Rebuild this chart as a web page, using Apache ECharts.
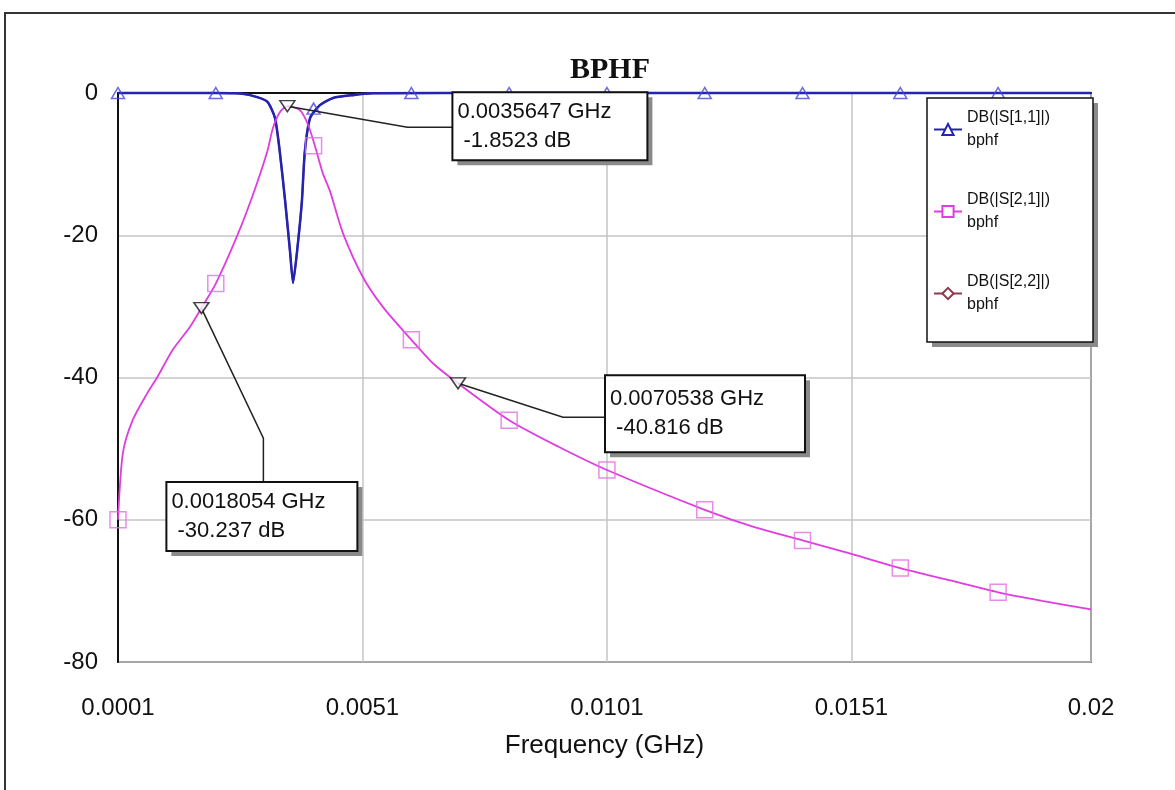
<!DOCTYPE html>
<html lang="en">
<head>
    <meta charset="UTF-8">
    <title>BPHF</title>
    <style>
        * {
            margin: 0;
            padding: 0;
            box-sizing: border-box;
        }

        body {
            background: #fff;
        }

        .chart {
            width: 1175px;
            height: 790px;
        }
    </style>
</head>
<body>
<div class="chart" id="chart"></div>

<script src="https://cdn.jsdelivr.net/npm/echarts@6.0.0/dist/echarts.min.js"></script>
<script>
    // ---- data (frequency in GHz, level in dB) ----
    const xTicks = [0.0001, 0.0051, 0.0101, 0.0151, 0.02]

    const s11Freq = [0.0001, 0.0021, 0.0025, 0.0028, 0.00315, 0.00331, 0.00341, 0.00352, 0.00362, 0.00368,
        0.00376, 0.00386, 0.00392, 0.00403, 0.00423, 0.0045, 0.0049, 0.0053, 0.0081, 0.02]
    const s11Db = [0, 0, -0.05, -0.3, -1.2, -3.5, -8.3, -15.3, -22.4, -26.7,
        -22.4, -15.3, -8.3, -3.5, -1.7, -0.7, -0.3, -0.05, 0, 0]

    // S22 sits exactly under S11 (it never shows in the picture)
    const s22Freq = s11Freq
    const s22Db = s11Db

    const s21Freq = [0.0001, 0.0002, 0.0004, 0.0007, 0.0009, 0.00122, 0.00157, 0.0018054, 0.0021, 0.00253,
        0.00286, 0.00315, 0.00327, 0.00341, 0.0035647, 0.00382, 0.00399, 0.00413, 0.00429, 0.00444,
        0.0047, 0.00511, 0.00552, 0.0061, 0.00654, 0.0070538, 0.0081, 0.0091, 0.0101, 0.0121,
        0.0131, 0.0141, 0.0151, 0.0161, 0.0171, 0.0181, 0.019, 0.02]
    const s21Db = [-60, -50.6, -46, -42.2, -40, -36.1, -32.9, -30.237, -26.8, -20.2,
        -14.3, -8.3, -4.9, -2.7, -1.8523, -2.4, -4.5, -7.5, -11.3, -13.9,
        -19.7, -25.9, -30.1, -34.7, -38, -40.816, -46, -49.7, -53, -58.6,
        -61, -62.9, -64.8, -66.8, -68.5, -70.2, -71.4, -72.6]

    // sample points where the simulator draws its trace symbols
    const symFreq = [0.0001, 0.0021, 0.0041, 0.0061, 0.0081, 0.0101, 0.0121, 0.0141, 0.0161, 0.0181]
    const s11SymDb = [0, 0, -2.2, 0, 0, 0, 0, 0, 0, 0]
    const s21SymDb = [-60, -26.8, -7.4, -34.7, -46, -53, -58.6, -62.9, -66.8, -70.2]

    // marker readouts
    const mkFreq = [0.0018054, 0.0035647, 0.0070538]
    const mkDb = [-30.237, -1.8523, -40.816]

    // pixel offsets of leader lines and boxes, relative to each marker
    const calloutLayout = [
        { leader: [[0, 0], [62, 130], [62, 174]], box: [-35, 174, 191, 69] },
        { leader: [[0, 0], [120, 21], [165, 21]], box: [165, -14, 195, 68] },
        { leader: [[0, 0], [105, 34], [147, 34]], box: [147, -8, 200, 77] }
    ]

    const names = ['DB(|S[1,1]|)', 'DB(|S[2,1]|)', 'DB(|S[2,2]|)']
    const blue = '#2424b4'
    const magenta = '#e03ce0'
    const brown = '#8c3c4c'
    const shadowGrey = '#8a8a8a'

    const pairs = (xs, ys) => xs.map((x, i) => [x, ys[i]])

    const chart = echarts.init(document.getElementById('chart'))

    const option = {
        backgroundColor: '#fff',
        animation: false,
        title: {
            text: 'BPHF',
            left: 605,
            top: 50,
            textAlign: 'center',
            textStyle: {
                fontFamily: 'Liberation Serif',
                fontWeight: 'bold',
                fontSize: 30,
                color: '#111'
            }
        },
        graphic: [
            // outer frame of the screenshot
            {
                type: 'rect',
                z: 0,
                shape: { x: 5, y: 13, width: 1200, height: 800 },
                style: { fill: null, stroke: '#333', lineWidth: 2 }
            },
            // legend box: drop shadow, then the box itself
            {
                type: 'rect',
                z: 8,
                shape: { x: 932, y: 103, width: 166, height: 244 },
                style: { fill: shadowGrey }
            },
            {
                type: 'rect',
                z: 9,
                shape: { x: 927, y: 98, width: 166, height: 244 },
                style: { fill: '#fff', stroke: '#111', lineWidth: 1.5 }
            }
        ],
        legend: {
            data: names,
            orient: 'vertical',
            left: 933,
            top: 95,
            padding: 0,
            itemWidth: 28,
            itemHeight: 14,
            itemGap: 13,
            z: 10,
            selectedMode: false,
            formatter: name => name + '\nbphf',
            textStyle: {
                fontFamily: 'Liberation Sans',
                fontSize: 16,
                lineHeight: 23,
                color: '#111',
                padding: [23, 0, 0, 0]
            }
        },
        grid: {
            left: 118,
            right: 84,
            top: 93,
            bottom: 128,
            show: true,
            borderColor: '#111',
            borderWidth: 1.5
        },
        xAxis: {
            type: 'value',
            min: 0.0001,
            max: 0.02,
            name: 'Frequency (GHz)',
            nameLocation: 'middle',
            nameGap: 71,
            nameTextStyle: { fontFamily: 'Liberation Sans', fontSize: 26, color: '#111' },
            axisLine: { lineStyle: { color: '#111', width: 2 } },
            axisTick: { show: false, customValues: xTicks },
            axisLabel: {
                customValues: xTicks,
                margin: 34,
                fontFamily: 'Liberation Sans',
                fontSize: 24,
                color: '#111',
                formatter: v => String(v)
            },
            splitLine: { show: true, lineStyle: { color: '#c4c4c4', width: 1.5 } }
        },
        yAxis: {
            type: 'value',
            min: -80,
            max: 0,
            interval: 20,
            axisLine: { show: true, lineStyle: { color: '#111', width: 2 } },
            axisTick: { show: false },
            axisLabel: { margin: 20, fontFamily: 'Liberation Sans', fontSize: 24, color: '#111' },
            splitLine: { show: true, lineStyle: { color: '#c4c4c4', width: 1.5 } }
        },
        series: [
            {
                name: names[2],
                type: 'line',
                data: pairs(s22Freq, s22Db),
                symbol: 'emptyDiamond',
                showSymbol: false,
                smooth: 0.2,
                clip: false,
                color: brown,
                lineStyle: { color: brown, width: 2 },
                z: 2
            },
            {
                name: names[0],
                type: 'line',
                data: pairs(s11Freq, s11Db),
                symbol: 'emptyTriangle',
                showSymbol: false,
                smooth: 0.2,
                clip: false,
                color: blue,
                lineStyle: { color: blue, width: 2.5 },
                z: 3
            },
            {
                name: names[1],
                type: 'line',
                data: pairs(s21Freq, s21Db),
                symbol: 'emptyRect',
                showSymbol: false,
                smooth: 0.25,
                clip: false,
                color: magenta,
                lineStyle: { color: magenta, width: 1.8 },
                z: 4
            },
            {
                name: 'S11 symbols',
                type: 'scatter',
                data: pairs(symFreq, s11SymDb),
                symbol: 'triangle',
                symbolSize: [13, 11],
                clip: false,
                silent: true,
                itemStyle: { color: 'rgba(255,255,255,0)', borderColor: '#4646d6', borderWidth: 1.5 },
                z: 5
            },
            {
                name: 'S21 symbols',
                type: 'scatter',
                data: pairs(symFreq, s21SymDb),
                symbol: 'rect',
                symbolSize: 16,
                clip: false,
                silent: true,
                itemStyle: { color: 'rgba(0,0,0,0)', borderColor: '#e46ee4', borderWidth: 1.5 },
                z: 5
            },
            {
                name: 'markers',
                type: 'scatter',
                data: pairs(mkFreq, mkDb),
                symbol: 'triangle',
                symbolRotate: 180,
                symbolSize: [15, 11],
                clip: false,
                silent: true,
                itemStyle: { color: '#fff', borderColor: '#111', borderWidth: 1.5 },
                z: 7
            },
            {
                name: 'marker readouts',
                type: 'custom',
                data: pairs(mkFreq, mkDb),
                encode: { x: 0, y: 1 },
                clip: false,
                silent: true,
                z: 6,
                renderItem: function (params, api) {
                    const i = params.dataIndex
                    const f = api.value(0)
                    const db = api.value(1)
                    const p = api.coord([f, db])
                    const lay = calloutLayout[i]
                    const pts = lay.leader.map(d => [p[0] + d[0], p[1] + d[1]])
                    const bx = p[0] + lay.box[0]
                    const by = p[1] + lay.box[1]
                    const bw = lay.box[2]
                    const bh = lay.box[3]
                    return {
                        type: 'group',
                        children: [
                            {
                                type: 'polyline',
                                shape: { points: pts },
                                style: { stroke: '#222', lineWidth: 1.5, fill: null }
                            },
                            {
                                type: 'rect',
                                shape: { x: bx + 5, y: by + 5, width: bw, height: bh },
                                style: { fill: shadowGrey }
                            },
                            {
                                type: 'rect',
                                shape: { x: bx, y: by, width: bw, height: bh },
                                style: { fill: '#fff', stroke: '#111', lineWidth: 2 }
                            },
                            {
                                type: 'text',
                                x: bx + 5,
                                y: by + bh / 2,
                                style: {
                                    text: f + ' GHz\n ' + db + ' dB',
                                    fontFamily: 'Liberation Sans',
                                    fontSize: 22,
                                    lineHeight: 29,
                                    fill: '#111',
                                    align: 'left',
                                    verticalAlign: 'middle'
                                }
                            }
                        ]
                    }
                }
            }
        ]
    }

    chart.setOption(option)
</script>
</body>
</html>
